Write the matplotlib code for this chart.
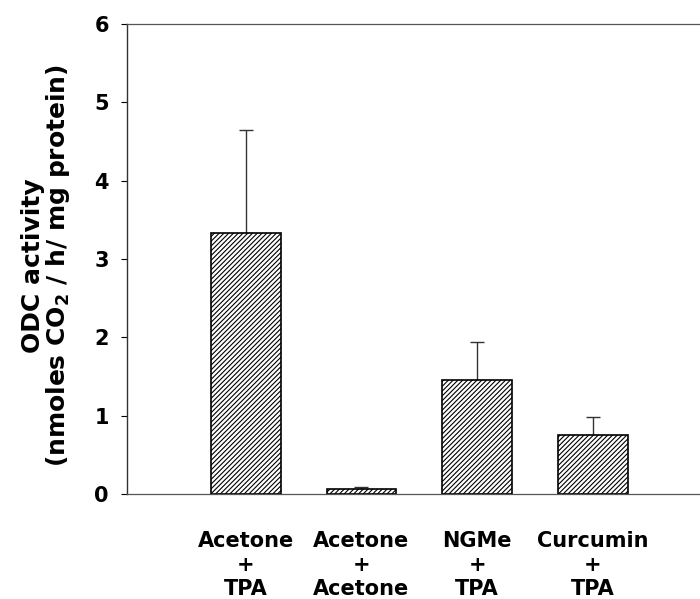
import matplotlib
matplotlib.use('Agg')
import matplotlib.pyplot as plt

# ODC activity data
groups = ['Acetone\n+\nTPA', 'Acetone\n+\nAcetone', 'NGMe\n+\nTPA', 'Curcumin\n+\nTPA']
means = [3.33, 0.06, 1.45, 0.75]
errors = [1.32, 0.025, 0.49, 0.23]
y_ticks = [0, 1, 2, 3, 4, 5, 6]

plt.rcParams['font.family'] = ['DejaVu Sans']
plt.rcParams['font.weight'] = 'bold'
plt.rcParams['mathtext.default'] = 'bf'
plt.rcParams['hatch.linewidth'] = 0.8

fig = plt.figure(figsize=(7, 5.99), dpi=100)
ax = fig.add_axes([0.1814, 0.1753, 0.8186, 0.7847])

pos = list(range(len(groups)))
ax.bar(pos, means, width=0.6, color='white', edgecolor='black',
       linewidth=1.2, hatch='///////', zorder=2)
ax.errorbar(pos, means, yerr=[[0] * len(errors), errors], fmt='none',
            ecolor='#333333', elinewidth=1.0, capsize=5, capthick=1.0, zorder=1)

ax.set_xlim(-1.027, 3.926)
ax.set_ylim(0, 6)
ax.set_yticks(y_ticks)
ax.set_yticklabels([str(t) for t in y_ticks], fontsize=15, fontweight='bold')
ax.tick_params(axis='y', direction='out', length=4, width=0.8, pad=9)

ax.set_xticks(pos)
ax.set_xticklabels(groups, fontsize=15, fontweight='bold', linespacing=1.22)
ax.tick_params(axis='x', length=0, pad=27)

ax.spines['right'].set_visible(False)
ax.spines['top'].set_color('#555555')
ax.spines['top'].set_linewidth(0.9)
ax.spines['left'].set_color('#333333')
ax.spines['bottom'].set_color('#555555')
ax.spines['left'].set_linewidth(1.0)
ax.spines['bottom'].set_linewidth(0.9)

fig.text(0.066, 0.556, 'ODC activity\n(nmoles CO$_2$ / h/ mg protein)',
         rotation=90, ha='center', va='center', multialignment='center',
         fontsize=18, fontweight='bold', linespacing=0.95)

fig.savefig('out.png', dpi=100)
